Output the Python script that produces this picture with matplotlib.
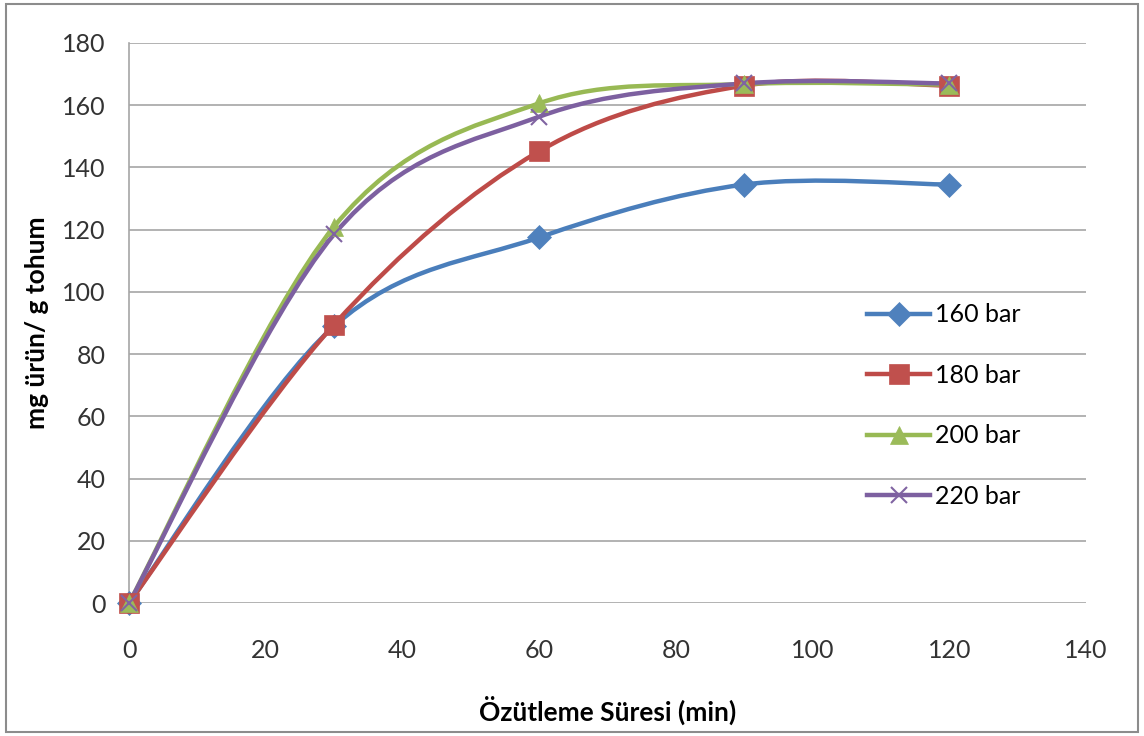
import numpy as np
import matplotlib
matplotlib.use("Agg")
import matplotlib.pyplot as plt
from matplotlib.path import Path
from matplotlib.patches import PathPatch, Rectangle
from matplotlib.lines import Line2D

plt.rcParams['font.family'] = ['Lato', 'DejaVu Sans']

# extraction time (min) and yield (mg product / g seed)
time_min = [0, 30, 60, 90, 120]
y_160 = [0, 89, 117.5, 134.5, 134.5]
y_180 = [0, 89.5, 145.2, 166.3, 166.3]
y_200 = [0, 121, 160.6, 166.8, 166.6]
y_220 = [0, 118.5, 156.3, 167.0, 167.0]

series = [
    ('160 bar', y_160, '#4A7EBB', '#4F81BD', 'D', 12),
    ('180 bar', y_180, '#BE4B48', '#C0504D', 's', 15),
    ('200 bar', y_200, '#98B954', '#9BBB59', '^', 13),
    ('220 bar', y_220, '#7D60A0', '#8064A2', 'x', 12),
]


def smooth_path(xs, ys):
    # Excel style smoothed line: cubic Bezier segments through the points
    pts = np.column_stack([xs, ys]).astype(float)
    n = len(pts)
    verts = [pts[0]]
    codes = [Path.MOVETO]
    for i in range(n - 1):
        p0 = pts[max(i - 1, 0)]
        p1 = pts[i]
        p2 = pts[i + 1]
        p3 = pts[min(i + 2, n - 1)]
        c1 = p1 + (p2 - p0) / 6.0
        c2 = p2 - (p3 - p1) / 6.0
        verts += [c1, c2, p2]
        codes += [Path.CURVE4] * 3
    return Path(verts, codes)


fig = plt.figure(figsize=(11.44, 7.36), dpi=100)
ax = fig.add_axes([0.1128, 0.1807, 0.8365, 0.7609])

handles = []
for label, ys, lcol, mcol, mk, ms in series:
    ax.add_patch(PathPatch(smooth_path(time_min, ys), facecolor='none',
                           edgecolor=lcol, lw=3.2, capstyle='round', zorder=3))
    mew = 1.5 if mk == 'x' else 0.5
    ax.plot(time_min, ys, linestyle='none', marker=mk, markersize=ms,
            markerfacecolor=mcol, markeredgecolor=mcol, markeredgewidth=mew,
            zorder=4, clip_on=False)
    handles.append(Line2D([], [], color=lcol, lw=3.2, marker=mk, markersize=ms,
                          markerfacecolor=mcol, markeredgecolor=mcol,
                          markeredgewidth=mew, label=label))

ax.set_xlim(0, 140)
ax.set_ylim(0, 180)
ax.set_xticks(np.arange(0, 141, 20))
ax.set_yticks(np.arange(0, 181, 20))
ax.grid(axis='y', color='#A6A6A6', lw=1.2)
ax.set_axisbelow(True)
for s in ['top', 'right', 'bottom']:
    ax.spines[s].set_visible(False)
ax.spines['left'].set_color('#A6A6A6')
ax.spines['left'].set_linewidth(1.2)
ax.tick_params(axis='both', length=0, labelsize=18, colors='#333333')
ax.tick_params(axis='x', pad=26)
ax.tick_params(axis='y', pad=17)

ax.set_xlabel('Özütleme Süresi (min)', fontsize=19, fontweight='bold', labelpad=24)
ax.set_ylabel('mg ürün/ g tohum', fontsize=19, fontweight='bold', labelpad=9)

ax.legend(handles=handles, loc='upper left', bbox_to_anchor=(0.748, 0.575),
          frameon=False, fontsize=18, labelspacing=1.5, handlelength=2.5,
          handletextpad=0.2)

fig.patches.append(Rectangle((0.005, 0.005), 0.99, 0.99, transform=fig.transFigure,
                             fill=False, edgecolor='#8C8C8C', lw=1.5))

fig.savefig('out.png', dpi=100)
